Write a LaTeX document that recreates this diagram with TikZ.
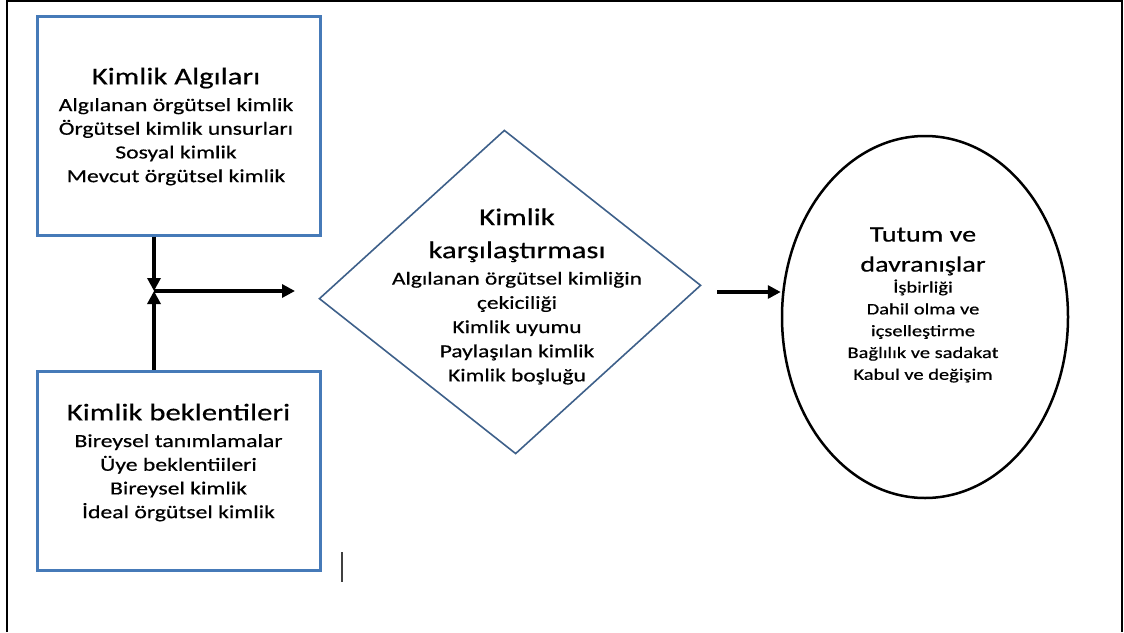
\documentclass[tikz,border=0pt]{standalone}
\usepackage{fontspec}
\setmainfont[FakeStretch=1.28,FakeBold=0.5]{Carlito}
\usetikzlibrary{arrows.meta,shapes.geometric}
\definecolor{boxblue}{RGB}{70,122,184}
\definecolor{diamondline}{RGB}{62,96,138}
\definecolor{caretgray}{RGB}{64,64,64}
\newcommand\hdbig[1]{{\fontsize{24}{28}\selectfont #1}}
\newcommand\hdmid[1]{{\fontsize{22}{26}\selectfont #1}}
\begin{document}
\begin{tikzpicture}[x=1pt,y=-1pt,
  box/.style={draw=boxblue, line width=3pt, rectangle, inner sep=0pt},
  txt/.style={align=center, inner sep=0pt, text=black},
  smalltext/.style={font=\fontsize{18.5}{23.7}\selectfont},
  ovaltext/.style={font=\fontsize{16}{21.8}\selectfont},
  arr/.style={line width=3.2pt, -{Triangle[length=13pt,width=13pt]}},
  frameline/.style={line width=2.8pt}
]
\useasboundingbox (0,0) rectangle (1124,632);
% page frame
\draw[frameline] (7,632) -- (7,1) -- (1122,1) -- (1122,632);

% left boxes
\node[box, minimum width=283pt, minimum height=219pt] (ka) at (178.5,125.5) {};
\node[box, minimum width=283pt, minimum height=199pt] (kb) at (178.5,470.5) {};
\node[txt, smalltext] (kat) at (176,126.5) {\hdbig{Kimlik Algıları}\\[3pt]
  Algılanan örgütsel kimlik\\ Örgütsel kimlik unsurları\\ Sosyal kimlik\\ Mevcut örgütsel kimlik};
\node[txt, smalltext] (kbt) at (178.5,462.5) {\hdbig{Kimlik beklentileri}\\[3pt]
  Bireysel tanımlamalar\\ Üye beklentiileri\\ Bireysel kimlik\\ İdeal örgütsel kimlik};

% comparison diamond
\node[diamond, draw=diamondline, line width=1.6pt, minimum width=382pt, minimum height=324pt,
  inner sep=0pt, rotate=2] (dm) at (510,292) {};
\node[txt, font=\fontsize{18.3}{24.2}\selectfont] (dmt) at (517,296.5) {\hdbig{Kimlik}\\[8.8pt]
  \hdbig{karşılaştırması}\\[2.3pt]
  Algılanan örgütsel kimliğin\\ çekiciliği\\ Kimlik uyumu\\ Paylaşılan kimlik\\ Kimlik boşluğu};

% outcome ellipse
\node[ellipse, draw=black, line width=2.5pt, minimum width=286pt, minimum height=362pt, inner sep=0pt] (el) at (925,317) {};
\node[txt, ovaltext] (elt) at (923,305) {\hdmid{Tutum ve}\\[8.2pt]
  \hdmid{davranışlar}\\[-0.8pt]
  İşbirliği\\ Dahil olma ve\\ içselleştirme\\ Bağlılık ve sadakat\\ Kabul ve değişim};

% connectors
\coordinate (jn) at (154,291);
\coordinate (hx) at (295,291);
\coordinate (ds) at (717,292);
\draw[arr] (ka.south -| jn) -- (jn);
\draw[arr] (kb.north -| jn) -- (jn);
\draw[arr] (jn) -- (hx);
\draw[arr] (ds) -- (ds -| el.west);

% text caret
\draw[caretgray, line width=2pt] (342,552) -- (342,582);
\end{tikzpicture}
\end{document}
